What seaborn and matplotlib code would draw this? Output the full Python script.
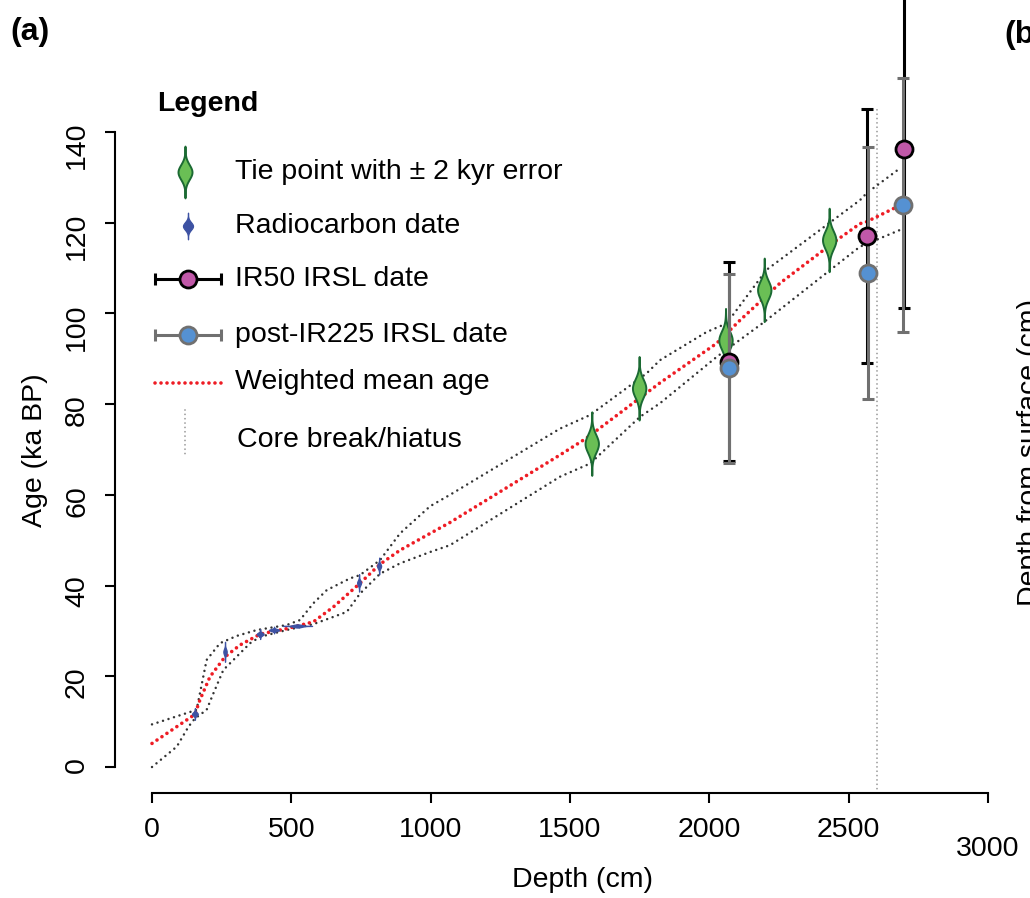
import matplotlib
matplotlib.use("Agg")
import matplotlib.pyplot as plt
import numpy as np
import seaborn as sns

#%% Data
# weighted mean age-depth curve and its bounds
mean_depth = [0, 154, 172, 208, 262, 316, 388, 483, 579, 651, 746, 818, 890, 998, 1069,
              1464, 1559, 1823, 2026, 2110, 2254, 2458, 2541, 2564, 2660, 2695]
mean_age = [5.2, 11.6, 14.8, 19.9, 24.3, 26.9, 29.3, 30.5, 32.0, 35.3, 40.5, 44.7, 47.8, 51.5, 53.9,
            68.8, 72.5, 84.7, 93.4, 98.5, 106.7, 116.2, 119.8, 120.2, 123.1, 123.9]

upper_depth = [0, 160, 196, 244, 304, 376, 483, 531, 579, 627, 711, 746, 818, 890, 998, 1069,
               1464, 1572, 1775, 1823, 1990, 2062, 2205, 2541, 2564, 2684]
upper_age = [9.4, 12.6, 23.6, 27.3, 28.9, 30.2, 31.3, 32.4, 36.1, 39.0, 41.6, 42.3, 45.6, 51.5, 57.5, 60.0,
             74.6, 77.6, 86.8, 89.7, 95.9, 97.8, 109.6, 125.0, 126.5, 132.0]

lower_depth = [0, 89, 131, 154, 196, 220, 256, 292, 352, 388, 483, 579, 651, 699, 746, 818, 890, 998, 1069,
               1464, 1572, 1751, 1823, 2026, 2190, 2540, 2684]
lower_age = [0, 4.5, 8.9, 10.7, 12.6, 16.2, 21.4, 23.6, 27.3, 28.7, 30.2, 31.5, 33.1, 34.2, 38.2, 42.6, 44.9, 47.4, 48.9,
             64.0, 66.9, 77.2, 80.2, 90.4, 97.8, 114.7, 118.4]

# tie points (+- 2 kyr)
tie_depth = [1578, 1748, 2058, 2197, 2430]
tie_age = [71.3, 83.5, 94.1, 105.2, 116.2]
tie_err = 2.0

# radiocarbon dates (age, 1 sd)
radio_depth = [154, 262, 388, 438, 743, 815]
radio_age = [11.7, 25.4, 29.3, 30.2, 40.6, 44.3]
radio_err = [0.37, 0.63, 0.31, 0.21, 0.55, 0.53]
# radiocarbon date spread over depth
radio_wide_depth = 522
radio_wide_age = 31.1
radio_wide_err = 15

# IRSL dates
ir50_depth = [2071, 2564, 2698]
ir50_age = [89.4, 117.0, 136.2]
ir50_err = [21.9, 28.0, 35.0]

pir_depth = [2071, 2568, 2694]
pir_age = [87.9, 108.9, 124.0]
pir_err = [20.9, 27.8, 28.0]

hiatus_depth = 2600
hiatus_top = 145

x_ticks = [0, 500, 1000, 1500, 2000, 2500, 3000]
y_ticks = [0, 20, 40, 60, 80, 100, 120, 140]

#%% Styling
sns.set_style("ticks")
plt.rcParams['font.family'] = ['Liberation Sans', 'DejaVu Sans']
plt.rcParams['font.size'] = 20.5
for key in ['text.color', 'axes.labelcolor', 'xtick.color', 'ytick.color', 'axes.edgecolor']:
    plt.rcParams[key] = 'black'

green_fill, green_edge = '#6abf55', '#1b6a33'
radio_blue = '#3d52a3'
magenta = '#c058a8'
lightblue = '#5591d2'
bar_gray = '#707070'
red_dots = (0, (0.01, 1.65))
black_dots = (0, (0.01, 2.3))
gray_dots = (0, (0.01, 2.4))

W, H = 1030, 898
fig = plt.figure(figsize=(W / 100, H / 100), dpi=100)
ax = fig.add_axes([115 / W, (H - 793) / H, 915 / W, 793 / H])
ax.set_xlim(-132.8, 3150.6)
ax.set_ylim(-5.73, 169.1)

# age-depth curves
sns.lineplot(x=upper_depth, y=upper_age, ax=ax, color='#333333', lw=1.8,
             linestyle=black_dots, dash_capstyle='round', errorbar=None, zorder=2)
sns.lineplot(x=lower_depth, y=lower_age, ax=ax, color='#333333', lw=1.8,
             linestyle=black_dots, dash_capstyle='round', errorbar=None, zorder=2)
sns.lineplot(x=mean_depth, y=mean_age, ax=ax, color='#ee1c24', lw=2.6,
             linestyle=red_dots, dash_capstyle='round', errorbar=None, zorder=3)

# core break
ax.plot([hiatus_depth, hiatus_depth], [ax.get_ylim()[0], hiatus_top], color='#9a9a9a', lw=1.3,
        linestyle=gray_dots, dash_capstyle='round', zorder=1)

# tie point violins
t = np.linspace(-3.5, 3.5, 200)
prof = np.exp(-0.5 * t ** 2)
for d, a in zip(tie_depth, tie_age):
    ax.fill_betweenx(a + t * tie_err, d - 24 * prof, d + 24 * prof,
                     facecolor=green_fill, edgecolor=green_edge, lw=1.4, zorder=4)

# radiocarbon violins (area normalised)
for d, a, e in zip(radio_depth, radio_age, radio_err):
    hw = 3.8 / e
    ax.fill_betweenx(a + t * e, d - hw * prof, d + hw * prof,
                     facecolor=radio_blue, edgecolor=radio_blue, lw=0.9, zorder=4)
ax.fill_between(radio_wide_depth + t * radio_wide_err,
                radio_wide_age - 0.35 * prof, radio_wide_age + 0.35 * prof,
                facecolor=radio_blue, edgecolor=radio_blue, lw=0.9, zorder=4)

# IRSL error bars and points
ax.errorbar(ir50_depth, ir50_age, yerr=ir50_err, fmt='none', ecolor='black',
            elinewidth=2.2, capsize=4, capthick=2.2, zorder=5)
ax.errorbar(pir_depth, pir_age, yerr=pir_err, fmt='none', ecolor=bar_gray,
            elinewidth=2.2, capsize=4, capthick=2.2, zorder=6)
sns.scatterplot(x=ir50_depth, y=ir50_age, ax=ax, s=150, color=magenta,
                edgecolor='black', linewidth=2, zorder=7)
sns.scatterplot(x=pir_depth, y=pir_age, ax=ax, s=150, color=lightblue,
                edgecolor=bar_gray, linewidth=2, zorder=8)

# axes in R style
for s in ['top', 'right']:
    ax.spines[s].set_visible(False)
ax.spines['left'].set_bounds(0, 140)
ax.spines['bottom'].set_bounds(0, 3000)
for s in ['left', 'bottom']:
    ax.spines[s].set_linewidth(1.5)
ax.set_xticks(x_ticks)
ax.set_yticks(y_ticks)
ax.tick_params(axis='both', length=7, width=1.5, labelsize=20.5, direction='out')
ax.tick_params(axis='x', pad=10)
ax.tick_params(axis='y', pad=11, labelrotation=90)
ax.xaxis.get_major_ticks()[-1].set_pad(24)

ax.set_xlabel('Depth (cm)', fontsize=20.5)
ax.xaxis.label.set_va('center')
ax.xaxis.set_label_coords((583 - 115) / 915, -(880 - 793) / 793)
ax.set_ylabel('Age (ka BP)', fontsize=20.5)
ax.yaxis.label.set_va('center')
ax.yaxis.set_label_coords((35 - 115) / 915, (793 - 450) / 793)

#%% Legend and panel labels on an overlay in pixel units
ov = fig.add_axes([0, 0, 1, 1], zorder=10)
ov.set_xlim(0, W)
ov.set_ylim(H, 0)
ov.axis('off')
ov.patch.set_alpha(0)

# panel labels; panel (b) is cut off at the right edge as in the source
ov.text(10, 32, '(a)', fontsize=23, fontweight='bold', va='center', ha='left')
ov.text(1004, 35, '(b)', fontsize=23, fontweight='bold', va='center', ha='left')
ov.text(1030, 452, 'Depth from surface (cm)', fontsize=20.5, rotation=90, va='center', ha='center')

ov.text(157, 104, 'Legend', fontsize=20.5, fontweight='bold', va='center', ha='left')
lt = np.linspace(-3.5, 3.5, 100)
lp = np.exp(-0.5 * lt ** 2)
ov.fill_betweenx(172 + lt * 7.4, 185 - 7 * lp, 185 + 7 * lp,
                 facecolor=green_fill, edgecolor=green_edge, lw=1.4)
ov.fill_betweenx(226 + lt * 3.8, 188 - 5 * lp, 188 + 5 * lp,
                 facecolor=radio_blue, edgecolor=radio_blue, lw=0.9)
ov.errorbar([188], [279], xerr=[[33], [33]], fmt='none', ecolor='black',
            elinewidth=2.2, capsize=4, capthick=2.2)
ov.scatter([188], [279], s=150, color=magenta, edgecolor='black', linewidth=2, zorder=3)
ov.errorbar([188], [335], xerr=[[33], [33]], fmt='none', ecolor=bar_gray,
            elinewidth=2.2, capsize=4, capthick=2.2)
ov.scatter([188], [335], s=150, color=lightblue, edgecolor=bar_gray, linewidth=2, zorder=3)
ov.plot([155, 223], [383, 383], color='#ee1c24', lw=2.6, linestyle=red_dots, dash_capstyle='round')
ov.plot([185, 185], [410, 455], color='#9a9a9a', lw=1.3, linestyle=gray_dots, dash_capstyle='round')

labels = ['Tie point with \u00b1 2 kyr error', 'Radiocarbon date', 'IR50 IRSL date',
          'post-IR225 IRSL date', 'Weighted mean age', 'Core break/hiatus']
label_y = [172, 226, 279, 335, 382, 440]
label_x = [235, 235, 235, 235, 235, 237]
for txt, lx, ly in zip(labels, label_x, label_y):
    ov.text(lx, ly, txt, fontsize=20.5, va='center', ha='left')

fig.savefig('out.png', dpi=100)
